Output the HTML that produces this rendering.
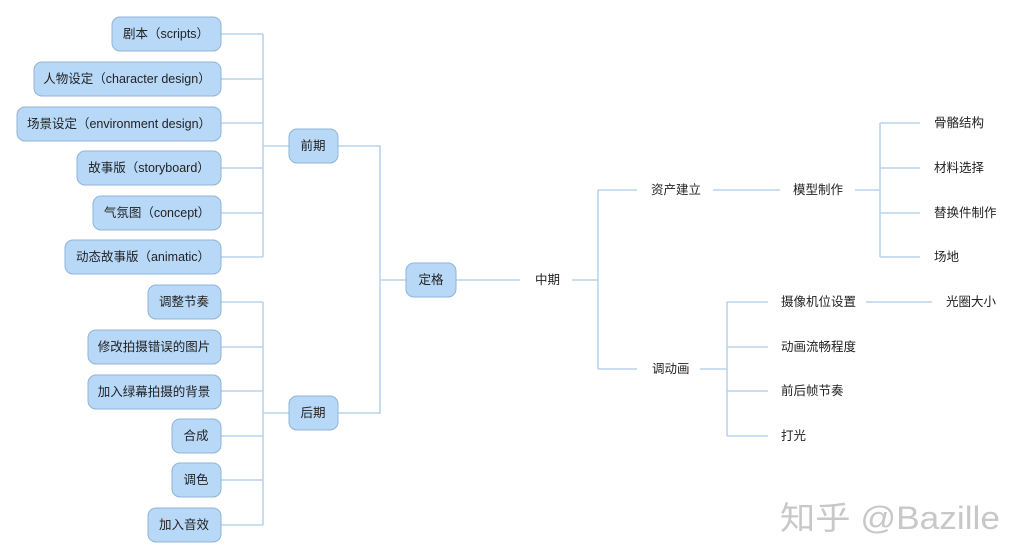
<!DOCTYPE html>
<html><head><meta charset="utf-8"><style>
html,body{margin:0;padding:0;background:#fff;}
svg{display:block;font-family:"Liberation Sans","Noto Sans CJK SC",sans-serif;}
.b{fill:#b8d8f8;stroke:#8fb3d6;stroke-width:1;}
.l{stroke:#b8d3ec;stroke-width:1.6;fill:none;}
text{font-size:12.5px;fill:#222;dominant-baseline:central;}
</style></head><body>
<svg width="1024" height="560" viewBox="0 0 1024 560">
<g class="l">
<path d="M221 34H263M221 79H263M221 123H263M221 168H263M221 213H263M221 257H263M263 34V257M263 146H289"/>
<path d="M221 302H263M221 347H263M221 391H263M221 436H263M221 480H263M221 525H263M263 302V525M263 413H289"/>
<path d="M338 146H380V413H338M380 280H406"/>
<path d="M456 280H520M572 280H598M598 190V369M598 190H637M598 369H637"/>
<path d="M713 190H780M855 190H880M880 123V257M880 123H920M880 168H920M880 213H920M880 257H920"/>
<path d="M700 369H727M727 302V436M727 302H768M727 347H768M727 391H768M727 436H768M866 302H932"/>
</g>
<g>
<rect class="b" x="112" y="17" width="109" height="34" rx="8"/>
<rect class="b" x="34" y="62" width="187" height="34" rx="8"/>
<rect class="b" x="17" y="107" width="204" height="34" rx="8"/>
<rect class="b" x="77" y="151" width="144" height="34" rx="8"/>
<rect class="b" x="93" y="196" width="128" height="34" rx="8"/>
<rect class="b" x="65" y="240" width="156" height="34" rx="8"/>
<rect class="b" x="148" y="285" width="73" height="34" rx="8"/>
<rect class="b" x="88" y="330" width="133" height="34" rx="8"/>
<rect class="b" x="88" y="375" width="133" height="34" rx="8"/>
<rect class="b" x="172" y="419" width="49" height="34" rx="8"/>
<rect class="b" x="172" y="463" width="49" height="34" rx="8"/>
<rect class="b" x="148" y="508" width="73" height="34" rx="8"/>
<rect class="b" x="289" y="129" width="49" height="34" rx="8"/>
<rect class="b" x="289" y="396" width="49" height="34" rx="8"/>
<rect class="b" x="406" y="263" width="50" height="34" rx="8"/>
</g>
<g text-anchor="middle">
<text x="166" y="34">剧本（scripts）</text>
<text x="127" y="79">人物设定（character design）</text>
<text x="119" y="124">场景设定（environment design）</text>
<text x="149" y="168">故事版（storyboard）</text>
<text x="157" y="213">气氛图（concept）</text>
<text x="143" y="257">动态故事版（animatic）</text>
<text x="184" y="302">调整节奏</text>
<text x="154" y="347">修改拍摄错误的图片</text>
<text x="154" y="392">加入绿幕拍摄的背景</text>
<text x="196" y="436">合成</text>
<text x="196" y="480">调色</text>
<text x="184" y="525">加入音效</text>
<text x="313" y="146">前期</text>
<text x="313" y="413">后期</text>
<text x="431" y="280">定格</text>
</g>
<g>
<text x="535" y="280">中期</text>
<text x="651" y="190">资产建立</text>
<text x="793" y="190">模型制作</text>
<text x="934" y="123">骨骼结构</text>
<text x="934" y="168">材料选择</text>
<text x="934" y="213">替换件制作</text>
<text x="934" y="257">场地</text>
<text x="652" y="369">调动画</text>
<text x="781" y="302">摄像机位设置</text>
<text x="781" y="347">动画流畅程度</text>
<text x="781" y="391">前后帧节奏</text>
<text x="781" y="436">打光</text>
<text x="946" y="302">光圈大小</text>
<text x="780" y="518" textLength="220" lengthAdjust="spacingAndGlyphs" style="font-size:32px;fill:#c8c8c8;">知乎 @Bazille</text>
</g>
</svg>
</body></html>
